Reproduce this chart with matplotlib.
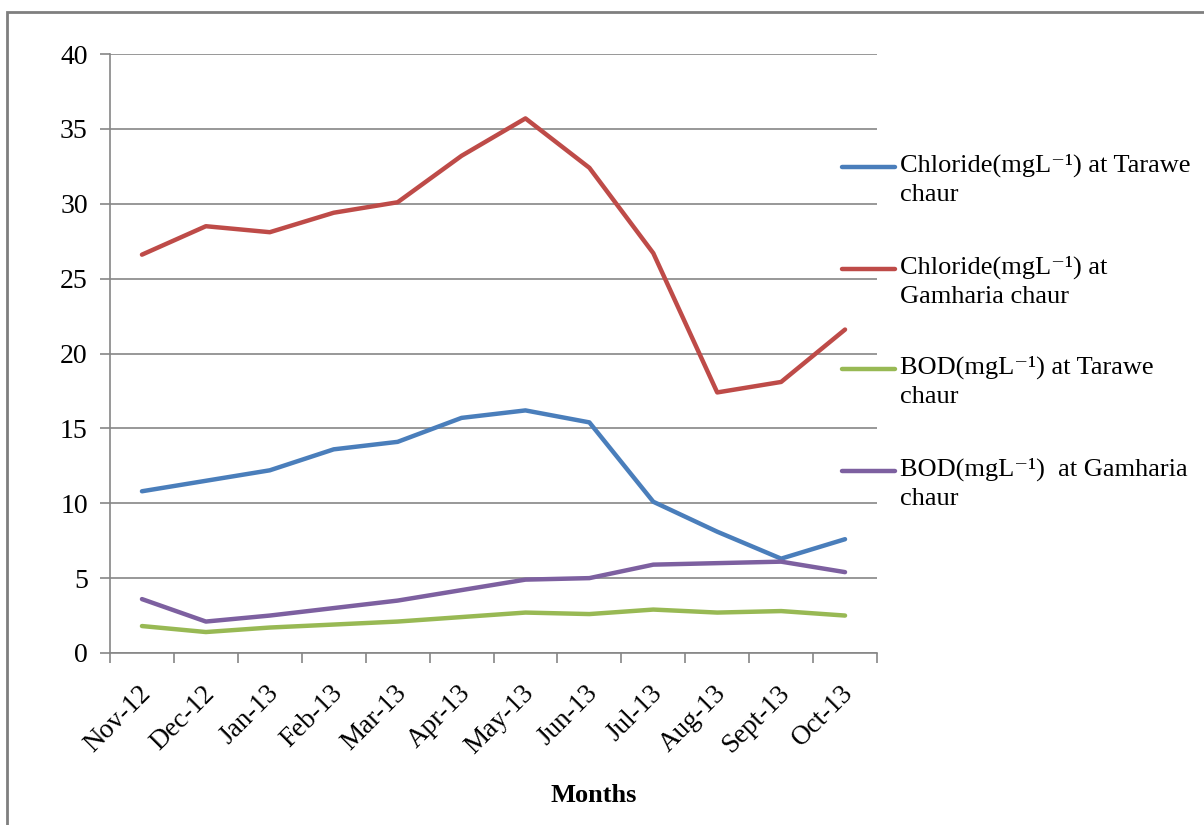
import matplotlib
matplotlib.use("Agg")
import matplotlib.pyplot as plt
import matplotlib.patches as mpatches
from matplotlib.lines import Line2D
from matplotlib.transforms import ScaledTranslation
import numpy as np

months = ['Nov-12', 'Dec-12', 'Jan-13', 'Feb-13', 'Mar-13', 'Apr-13',
          'May-13', 'Jun-13', 'Jul-13', 'Aug-13', 'Sept-13', 'Oct-13']

chloride_tarawe = [10.8, 11.5, 12.2, 13.6, 14.1, 15.7, 16.2, 15.4, 10.1, 8.1, 6.3, 7.6]
chloride_gamharia = [26.6, 28.5, 28.1, 29.4, 30.1, 33.2, 35.7, 32.4, 26.7, 17.4, 18.1, 21.6]
bod_tarawe = [1.8, 1.4, 1.7, 1.9, 2.1, 2.4, 2.7, 2.6, 2.9, 2.7, 2.8, 2.5]
bod_gamharia = [3.6, 2.1, 2.5, 3.0, 3.5, 4.2, 4.9, 5.0, 5.9, 6.0, 6.1, 5.4]

labels = ['Chloride(mgL\u207b\u00b9) at Tarawe\nchaur',
          'Chloride(mgL\u207b\u00b9) at\nGamharia chaur',
          'BOD(mgL\u207b\u00b9) at Tarawe\nchaur',
          'BOD(mgL\u207b\u00b9)  at Gamharia\nchaur']
colors = ['#4A7EBB', '#BE4B48', '#98B954', '#7D60A0']

plt.rcParams['font.family'] = ['Liberation Serif', 'DejaVu Serif']
grey = '#868686'
fs = 19

W, H = 1204, 825
fig = plt.figure(figsize=(W / 100, H / 100), dpi=100)
ax = fig.add_axes([110/W, 1-653/H, 767/W, 599/H])

x = np.arange(len(months))
series = [chloride_tarawe, chloride_gamharia, bod_tarawe, bod_gamharia]
for vals, c in zip(series, colors):
    ax.plot(x, vals, color=c, lw=3.2, solid_capstyle='round', solid_joinstyle='round')

ax.set_xlim(-0.5, len(months) - 0.5)
ax.set_ylim(0, 40)
ax.set_yticks(range(0, 41, 5))
ax.yaxis.grid(True, color=grey, lw=1.2)
ax.set_axisbelow(True)

# category ticks sit between the months, labels at the centres
ax.set_xticks(np.arange(-0.5, len(months), 1.0))
ax.set_xticklabels([])
ax.set_xticks(x, minor=True)
ax.set_xticklabels(months, minor=True, rotation=45, ha='right', va='top',
                   rotation_mode='anchor', fontsize=19.5)
ax.tick_params(axis='x', which='minor', length=0, pad=20)
ax.tick_params(axis='x', which='major', length=7, width=1.2, color=grey)
ax.tick_params(axis='y', length=7, width=1.2, color=grey, labelsize=20, pad=9)

# nudge the slanted month labels a little to the left
nudge = ScaledTranslation(-4/100, 0, fig.dpi_scale_trans)
for lbl in ax.get_xticklabels(minor=True):
    lbl.set_transform(lbl.get_transform() + nudge)

for s in ['top', 'right']:
    ax.spines[s].set_visible(False)
for s in ['left', 'bottom']:
    ax.spines[s].set_color(grey)
    ax.spines[s].set_linewidth(1.2)

fig.text(594/W, 1-795/H, 'Months', ha='center', va='center',
         fontsize=fs, fontweight='bold')

# legend: short line beside the first line of each wrapped label
entry_y = [167, 269, 369, 471]
for yy, lab, c in zip(entry_y, labels, colors):
    fig.add_artist(Line2D([842/W, 895/W], [1-yy/H, 1-yy/H], color=c, lw=3.2,
                          transform=fig.transFigure, solid_capstyle='round'))
    fig.text(900/W, 1-(yy-13)/H, lab, ha='left', va='top', fontsize=fs,
             linespacing=1.36)

# outer chart border
fig.patches.append(mpatches.Rectangle((7/W, -0.1), 1.2, 1-12/H+0.1,
                                      transform=fig.transFigure, fill=False,
                                      edgecolor='#7f7f7f', lw=2))

fig.savefig('out.png', dpi=100)
